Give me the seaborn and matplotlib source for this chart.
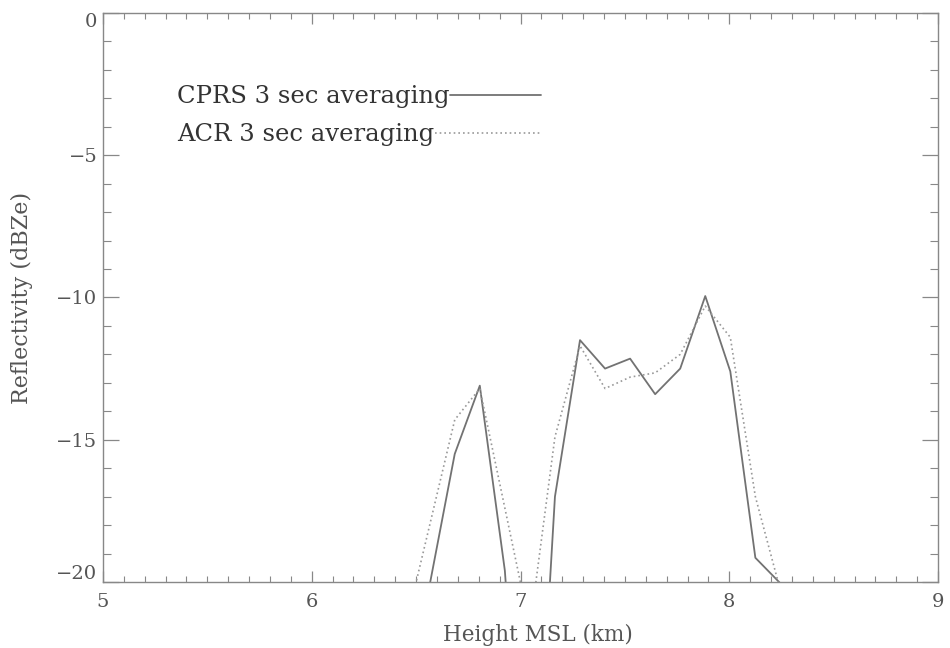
import matplotlib
matplotlib.use("Agg")
import matplotlib.pyplot as plt
from matplotlib.ticker import MultipleLocator
from matplotlib.transforms import ScaledTranslation
import seaborn as sns
import pandas as pd

# Data
height_km = [6.445, 6.565, 6.685, 6.805, 6.925, 7.045, 7.165, 7.285, 7.405,
             7.525, 7.645, 7.765, 7.885, 8.005, 8.125, 8.245, 8.365]
cprs_dbz = [-30.0, -20.1, -15.5, -13.1, -19.6, -32.0, -17.0, -11.5, -12.5,
            -12.15, -13.4, -12.5, -9.95, -12.6, -19.15, -20.05, -30.0]
acr_dbz = [-21.7, -18.0, -14.3, -13.2, -17.4, -21.6, -14.9, -11.7, -13.2,
           -12.8, -12.65, -12.0, -10.3, -11.4, -17.0, -20.3, -30.0]

series_labels = ["CPRS 3 sec averaging", "ACR 3 sec averaging"]
x_label = "Height MSL (km)"
y_label = "Reflectivity (dBZe)"

sns.set_style("white")
plt.rcParams["font.family"] = ["DejaVu Serif"]
plt.rcParams["axes.unicode_minus"] = True

df_cprs = pd.DataFrame({"h": height_km, "z": cprs_dbz})
df_acr = pd.DataFrame({"h": height_km, "z": acr_dbz})

fig = plt.figure(figsize=(9.5, 6.48), dpi=100)
ax = fig.add_axes([0.1084, 0.1019, 0.879, 0.8781])

sns.lineplot(data=df_cprs, x="h", y="z", ax=ax, color="#727272",
             linewidth=1.3, label=series_labels[0], sort=False)
sns.lineplot(data=df_acr, x="h", y="z", ax=ax, color="#999999",
             linewidth=1.2, linestyle=(0, (1, 1.8)), label=series_labels[1], sort=False)

ax.set_xlim(5, 9)
ax.set_ylim(-20, 0)
ax.xaxis.set_major_locator(MultipleLocator(1))
ax.xaxis.set_minor_locator(MultipleLocator(0.1))
ax.yaxis.set_major_locator(MultipleLocator(5))
ax.yaxis.set_minor_locator(MultipleLocator(1))

grey_text = "#555555"
ax.tick_params(axis="x", which="both", direction="in", top=True, bottom=True,
               colors="#888888", labelcolor=grey_text, labelsize=14, pad=8)
ax.tick_params(axis="x", which="major", length=8.2, width=0.9)
ax.tick_params(axis="x", which="minor", length=4.1, width=0.8)
ax.tick_params(axis="y", which="both", direction="in", left=True, right=True,
               colors="#888888", labelcolor=grey_text, labelsize=14, pad=4)
ax.tick_params(axis="y", which="major", length=11.5, width=0.9)
ax.tick_params(axis="y", which="minor", length=5.8, width=0.8)

for s in ax.spines.values():
    s.set_color("#888888")
    s.set_linewidth(1.0)

ax.set_xlabel(x_label, fontsize=15.5, color=grey_text)
ax.xaxis.set_label_coords(0.521, -0.074)
ax.set_ylabel(y_label, fontsize=16, color=grey_text)
ax.yaxis.set_label_coords(-0.084, 0.5)

# Legend: label first, then line sample; two legends to keep labels left aligned
handles, labels = ax.get_legend_handles_labels()
ax.get_legend().remove()
leg_font = {"family": "DejaVu Serif", "size": 17.5}
leg1 = ax.legend([handles[0]], [labels[0]], markerfirst=False, frameon=False,
                 handlelength=3.75, handletextpad=0.0, prop=leg_font,
                 loc="upper left", bbox_to_anchor=(0.089, 0.873),
                 borderpad=0, borderaxespad=0, labelcolor="#333333")
ax.add_artist(leg1)
leg2 = ax.legend([handles[1]], [labels[1]], markerfirst=False, frameon=False,
                 handlelength=4.36, handletextpad=0.0, prop=leg_font,
                 loc="upper left", bbox_to_anchor=(0.089, 0.806),
                 borderpad=0, borderaxespad=0, labelcolor="#333333")

# IDL-style: end labels of the y axis pulled inside the axis range
fig.canvas.draw()
for tick in ax.yaxis.get_major_ticks():
    loc = tick.get_loc()
    if abs(loc - 0) < 1e-9:
        tick.label1.set_transform(tick.label1.get_transform()
                                  + ScaledTranslation(0, -5 / 72, fig.dpi_scale_trans))
    elif abs(loc + 20) < 1e-9:
        tick.label1.set_transform(tick.label1.get_transform()
                                  + ScaledTranslation(0, 7 / 72, fig.dpi_scale_trans))

fig.savefig("out.png", dpi=100, facecolor="white")
